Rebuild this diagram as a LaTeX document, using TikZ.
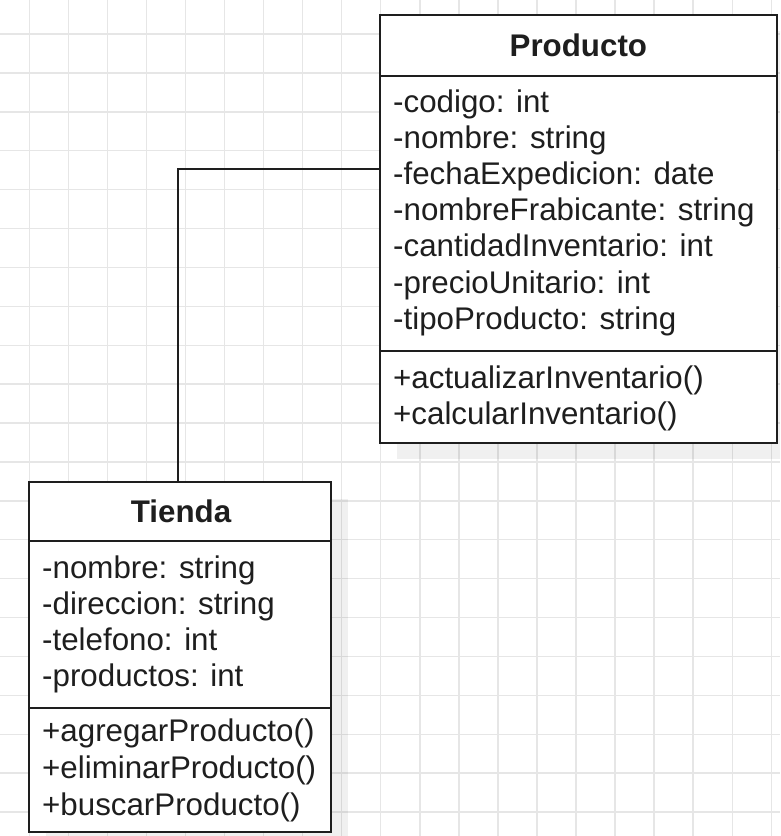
\documentclass[tikz,border=0pt]{standalone}
\usepackage{fontspec}
\setmainfont{Liberation Sans}
\usetikzlibrary{calc}
\definecolor{ink}{HTML}{1E1E1E}
\definecolor{gridc}{HTML}{E6E6E6}
\begin{document}
\begin{tikzpicture}[x=1pt,y=-1pt,
  gridline/.style={draw=gridc,line width=1.4pt},
  umlbox/.style={draw=ink,line width=2pt,fill=white,inner sep=0pt,rectangle},
  shadowbox/.style={fill=black,opacity=0.06,draw=none,inner sep=0pt,rectangle},
  sep/.style={draw=ink,line width=2pt},
  txt/.style={text=ink,inner sep=0pt,font=\fontsize{31.3}{36}\selectfont},
  ttl/.style={txt,font=\fontsize{31.3}{36}\selectfont\bfseries},
  link/.style={draw=ink,line width=2pt}]
\useasboundingbox (0,0) rectangle (780,836);
\begin{scope}
\clip (0,0) rectangle (780,836);
% grid
\foreach \k in {0,...,19} \draw[gridline] ({29.3+39.05*\k},0) -- ({29.3+39.05*\k},836);
\foreach \k in {0,...,20} \draw[gridline] (0,{34+38.9*\k}) -- (780,{34+38.9*\k});
% shadows
\node[shadowbox,minimum width=396.7pt,minimum height=427.7pt] (prodsh) at (595.35,244.85) {};
\node[shadowbox,minimum width=302pt,minimum height=350.3pt] (tiendash) at (197.3,673.85) {};
% connector
\node[umlbox,minimum width=396.7pt,minimum height=427.7pt] (prod) at (578.35,228.85) {};
\node[umlbox,minimum width=302pt,minimum height=350.3pt] (tienda) at (180.3,656.85) {};
\coordinate (pj) at ($(prod.north west)+(0,155)$);
\draw[link] (pj) -| ([xshift=-2.3pt]tienda.north);
% Producto
\draw[sep] (prod.north west |- 0,76) -- (prod.north east |- 0,76);
\draw[sep] (prod.north west |- 0,350.7) -- (prod.north east |- 0,350.7);
\node[ttl,anchor=base] (ptitle) at (578.35,56.7) {Producto};
\foreach \t [count=\i] in {{-codigo: int},{-nombre: string},{-fechaExpedicion: date},{-nombreFrabicante: string},{-cantidadInventario: int},{-precioUnitario: int},{-tipoProducto: string}}
  \node[txt,anchor=base west] (pa\i) at (393,{112+36.2*(\i-1)}) {\t};
\foreach \t [count=\i] in {{+actualizarInventario()},{+calcularInventario()}}
  \node[txt,anchor=base west] (pm\i) at (393,{388+36*(\i-1)}) {\t};
% Tienda
\draw[sep] (tienda.north west |- 0,541) -- (tienda.north east |- 0,541);
\draw[sep] (tienda.north west |- 0,707.7) -- (tienda.north east |- 0,707.7);
\node[ttl,anchor=base] (ttitle) at (181,522.7) {Tienda};
\foreach \t [count=\i] in {{-nombre: string},{-direccion: string},{-telefono: int},{-productos: int}}
  \node[txt,anchor=base west] (ta\i) at (42,{578.3+36.1*(\i-1)}) {\t};
\foreach \t [count=\i] in {{+agregarProducto()},{+eliminarProducto()},{+buscarProducto()}}
  \node[txt,anchor=base west] (tm\i) at (42,{741.7+36.65*(\i-1)}) {\t};
\end{scope}
\end{tikzpicture}
\end{document}
